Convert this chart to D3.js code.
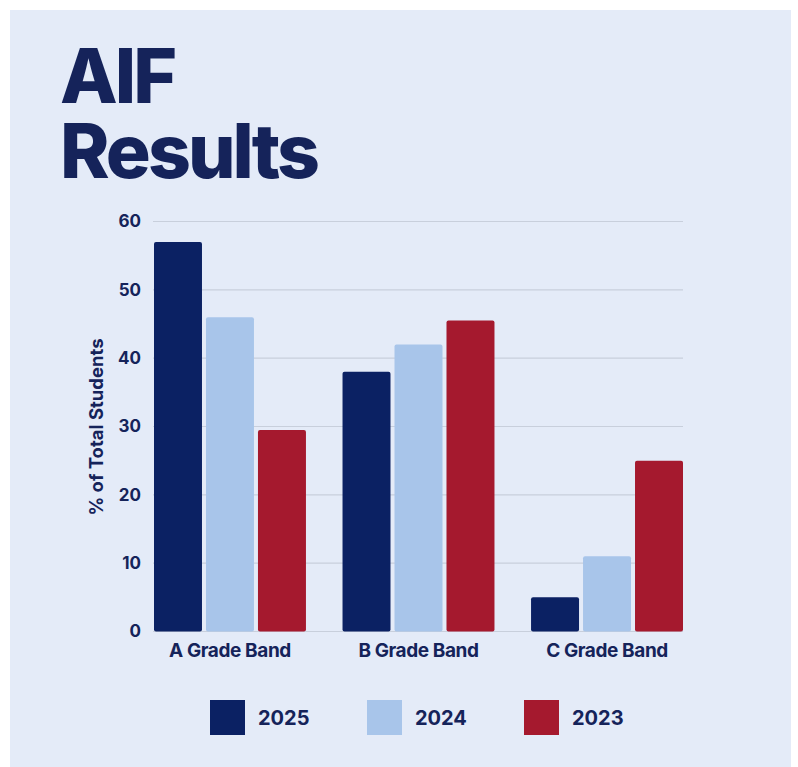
<!DOCTYPE html>
<html>
<head>
<meta charset="utf-8">
<script src="https://cdn.jsdelivr.net/npm/d3@7"></script>
<style>
  body { margin: 0; background: #ffffff; }
  svg { display: block; font-family: Inter, "Open Sans", sans-serif; }
</style>
</head>
<body>
<script>
var bands = ["A Grade Band", "B Grade Band", "C Grade Band"];
var years = ["2025", "2024", "2023"];
var vals2025 = [57, 38, 5];
var vals2024 = [46, 42, 11];
var vals2023 = [29.5, 45.5, 25];
var yTicks = [0, 10, 20, 30, 40, 50, 60];
var colors = ["#0b2163", "#a8c5ea", "#a5192e"];

var W = 798, H = 767;
var navy = "#15235a";

var rows = bands.map(function(b, i) {
    return {band: b, values: [vals2025[i], vals2024[i], vals2023[i]]};
});

var svg = d3.select("body").append("svg")
    .attr("width", W)
    .attr("height", H);

// panel
svg.append("rect")
    .attr("x", 10).attr("y", 10)
    .attr("width", 781).attr("height", 757)
    .attr("fill", "#e4ebf8");

// title, two tight lines as in the original
var title = svg.append("text")
    .attr("fill", navy)
    .attr("font-size", 75)
    .attr("font-weight", 800)
    .attr("letter-spacing", -3);
title.append("tspan").attr("x", 60).attr("y", 103).text("AIF");
title.append("tspan").attr("x", 60).attr("y", 178).text("Results");

var x0 = d3.scaleBand()
    .domain(bands)
    .range([154, 683])
    .paddingInner(0.194)
    .paddingOuter(0);

var x1 = d3.scaleBand()
    .domain(years)
    .range([0, x0.bandwidth()])
    .paddingInner(0.077);

var y = d3.scaleLinear()
    .domain([0, 60])
    .range([631.5, 221.5]);

// gridlines
svg.append("g").selectAll("line")
    .data(yTicks)
    .enter()
    .append("line")
    .attr("x1", 153)
    .attr("x2", 683)
    .attr("y1", function(d) { return y(d); })
    .attr("y2", function(d) { return y(d); })
    .attr("stroke", "#c8cfdc")
    .attr("stroke-width", 1.2);

// y axis
var yAxis = svg.append("g")
    .attr("transform", "translate(141,0)")
    .call(d3.axisLeft(y).tickValues(yTicks).tickSize(0).tickPadding(0));
yAxis.select(".domain").remove();
yAxis.selectAll("text")
    .attr("fill", navy)
    .attr("font-size", 17)
    .attr("font-weight", 700)
    .attr("font-family", "Inter, sans-serif");

svg.append("text")
    .attr("transform", "translate(103,427) rotate(-90)")
    .attr("text-anchor", "middle")
    .attr("fill", navy)
    .attr("font-size", 18.5)
    .attr("font-weight", 700)
    .text("% of Total Students");

// bars
var groups = svg.append("g").selectAll("g")
    .data(rows)
    .enter()
    .append("g")
    .attr("transform", function(d) { return "translate(" + x0(d.band) + ",0)"; });

groups.selectAll("rect")
    .data(function(d) { return d.values.map(function(v, i) { return {year: years[i], value: v, i: i}; }); })
    .enter()
    .append("rect")
    .attr("x", function(d) { return x1(d.year); })
    .attr("y", function(d) { return y(d.value); })
    .attr("width", x1.bandwidth())
    .attr("height", function(d) { return y(0) - y(d.value); })
    .attr("rx", 2)
    .attr("fill", function(d) { return colors[d.i]; });

// x axis labels
var xAxis = svg.append("g")
    .attr("transform", "translate(0,657)")
    .call(d3.axisBottom(x0).tickSize(0).tickPadding(0));
xAxis.select(".domain").remove();
xAxis.selectAll("text")
    .attr("dy", 0)
    .attr("fill", navy)
    .attr("font-size", 19)
    .attr("font-weight", 700)
    .attr("letter-spacing", -0.4)
    .attr("font-family", "Inter, sans-serif");

// legend
var legend = svg.append("g").selectAll("g")
    .data(years)
    .enter()
    .append("g")
    .attr("transform", function(d, i) { return "translate(" + (210 + i * 157) + ",700)"; });

legend.append("rect")
    .attr("width", 35)
    .attr("height", 35)
    .attr("fill", function(d, i) { return colors[i]; });

legend.append("text")
    .attr("x", 48)
    .attr("y", 25)
    .attr("fill", navy)
    .attr("font-size", 20)
    .attr("font-weight", 700)
    .text(function(d) { return d; });
</script>
</body>
</html>
